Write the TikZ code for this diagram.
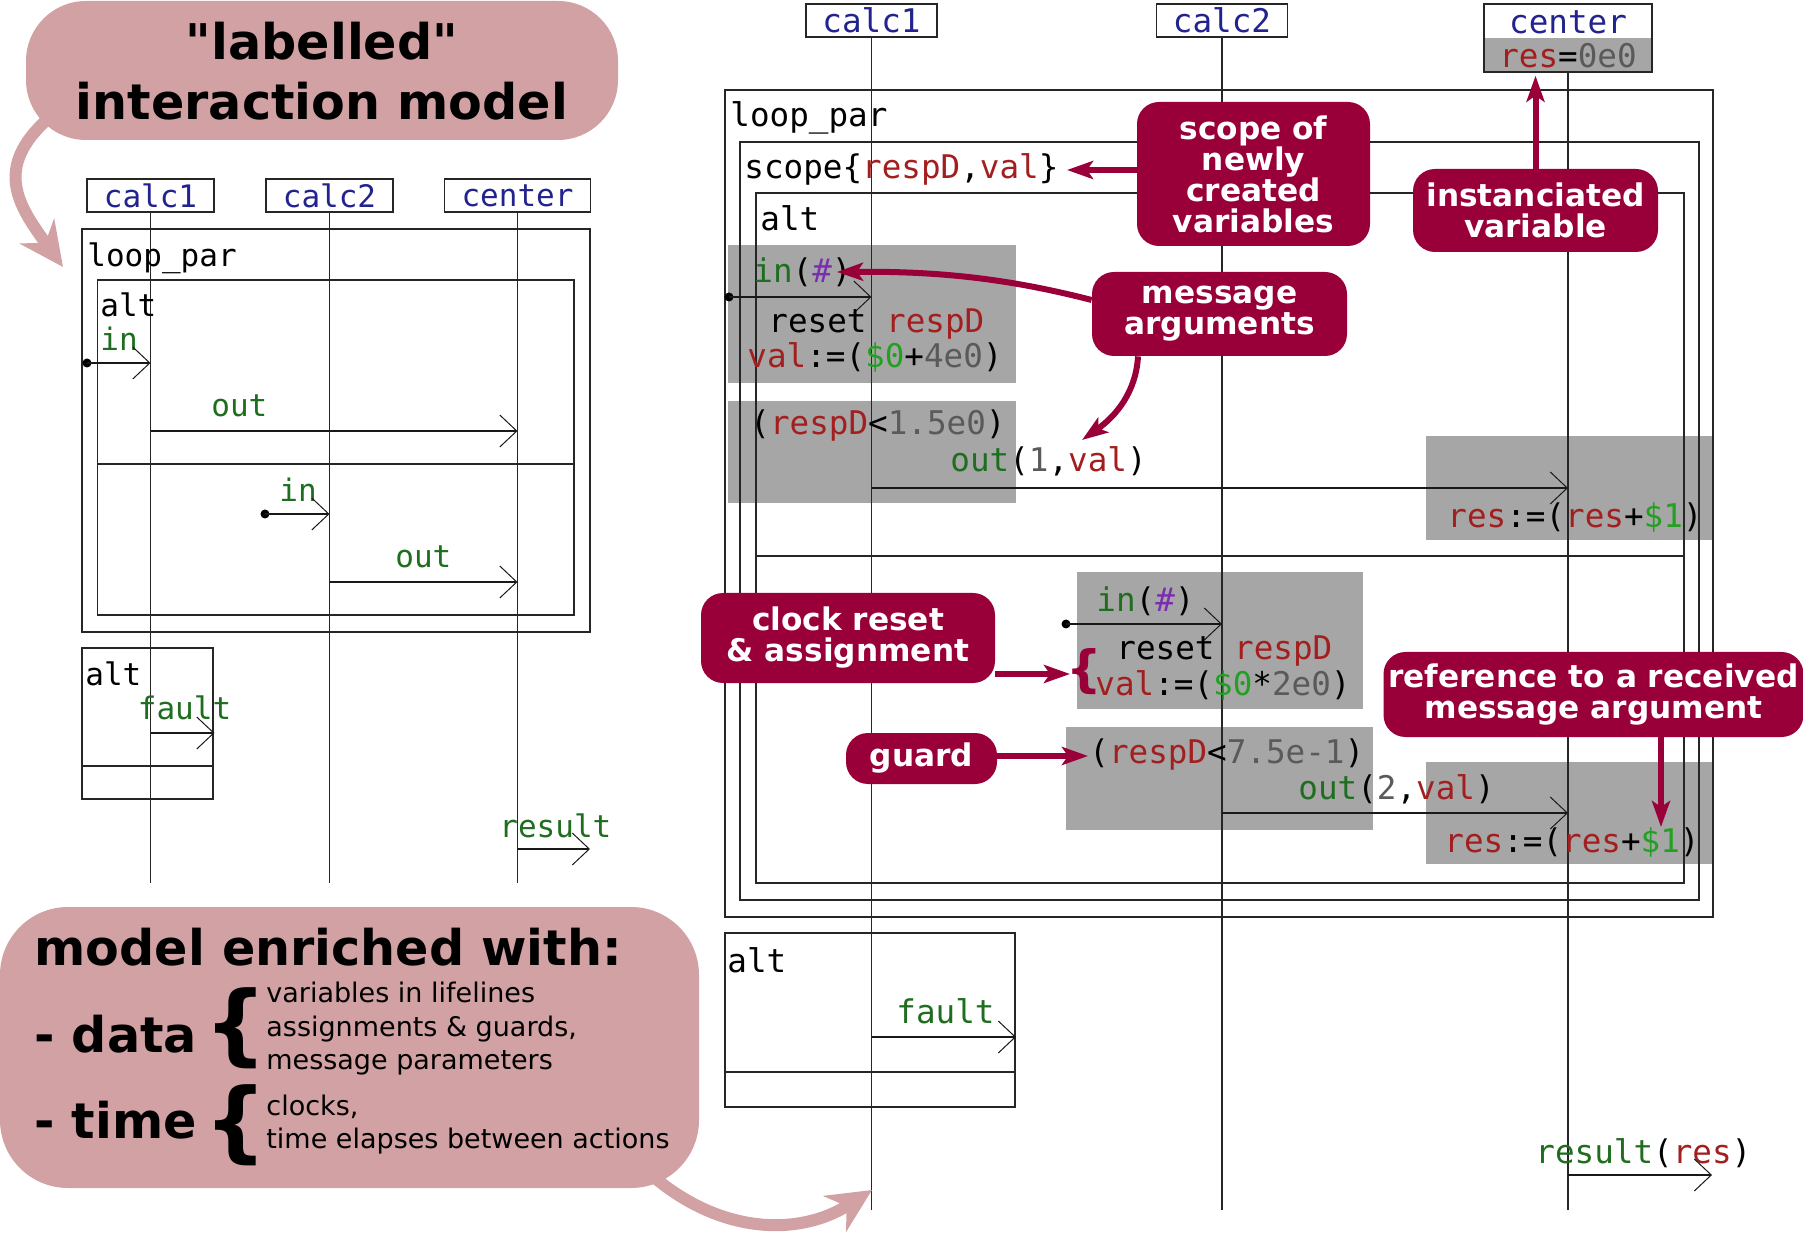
\documentclass[tikz,border=0pt]{standalone}
\usepackage{fontspec}
\setmainfont{DejaVu Sans}
\setmonofont{DejaVu Sans Mono}
\newfontfamily\plainsans{DejaVu Sans}[Ligatures=TeXOff]
\usetikzlibrary{arrows.meta}
\definecolor{pinkb}{HTML}{D1A1A3}
\definecolor{crim}{HTML}{990039}
\definecolor{grayb}{HTML}{A6A6A6}
\definecolor{msggreen}{HTML}{1F6E1F}
\definecolor{argreen}{HTML}{22A022}
\definecolor{varred}{HTML}{A31F1F}
\definecolor{numgray}{HTML}{5A5A5A}
\definecolor{hashpurple}{HTML}{7A2DB0}
\definecolor{lifeblue}{HTML}{23238F}
\newcommand\mMsg[1]{\textcolor{msggreen}{#1}}
\newcommand\mVar[1]{\textcolor{varred}{#1}}
\newcommand\mArg[1]{\textcolor{argreen}{#1}}
\newcommand\mNum[1]{\textcolor{numgray}{#1}}
\newcommand\mHash[1]{\textcolor{hashpurple}{#1}}
\newcommand\mLife[1]{\textcolor{lifeblue}{#1}}
\newcommand\monoR{\ttfamily\fontsize{16.3}{18}\selectfont}
\newcommand\monoL{\ttfamily\fontsize{15.5}{17}\selectfont}
\newcommand\calloutfont{\bfseries\fontsize{15.6}{15.5}\selectfont}
\newcommand\bigboldfont{\bfseries\fontsize{24.6}{30}\selectfont}
\newcommand\smalltextfont{\fontsize{13.5}{17}\selectfont}
\begin{document}
\begin{tikzpicture}[x=0.5pt,y=-0.5pt,
  frame/.style={draw=black!85, line width=0.75pt},
  life/.style={draw=black!85, line width=0.6pt},
  msgline/.style={draw=black!90, line width=0.75pt, -{Straight Barb[length=8.5pt,width=16pt,line width=0.5pt]}},
  startdot/.style={circle, fill=black, inner sep=0pt, minimum size=4.5pt},
  txR/.style={anchor=base west, inner sep=0pt, font=\monoR},
  txL/.style={anchor=base west, inner sep=0pt, font=\monoL},
  headR/.style={draw=black!85, line width=0.75pt, minimum width=65.5pt, minimum height=16.5pt, inner sep=0pt, font=\monoR},
  headL/.style={draw=black!85, line width=0.75pt, minimum width=63.5pt, minimum height=16.5pt, inner sep=0pt, font=\monoL},
  callout/.style={fill=crim, rounded corners=11pt, text=white, font=\calloutfont, align=center, inner sep=0pt},
  carrow/.style={draw=crim, line width=3pt, -{Stealth[length=13pt,width=9pt,inset=3pt]}},
  pinkarrow/.style={draw=pinkb, line width=6pt, -{Stealth[length=22pt,width=21pt,inset=7pt]}},
  bubble/.style={fill=pinkb, inner sep=0pt},
  bigbold/.style={anchor=base west, inner sep=0pt, font=\bigboldfont},
  smalltx/.style={anchor=base west, inner sep=0pt, font=\smalltextfont},
]
\useasboundingbox (0,0) rectangle (1803,1234);

%================ LEFT DIAGRAM =================
\draw[frame] (82,229) rectangle (590,632);
\draw[frame] (97.5,280) rectangle (574,615);
\draw[frame] (97.5,464) -- (574,464);
\draw[frame] (82,648) rectangle (213,799);
\draw[frame] (82,766) -- (213,766);

\node[headL] (lc1) at (150.5,195.5) {\mLife{calc1}};
\node[headL] (lc2) at (329.5,195.5) {\mLife{calc2}};
\node[headL, minimum width=73pt] (lctr) at (517.5,195.5) {\mLife{center}};
\coordinate (lc1e) at (150.5,883);
\coordinate (lc2e) at (329.5,883);
\coordinate (lctre) at (517.5,883);
\draw[life] (lc1.south) -- (lc1e);
\draw[life] (lc2.south) -- (lc2e);
\draw[life] (lctr.south) -- (lctre);

\node[txL] (lloop) at (87,267) {loop\_par};
\node[txL] (lalt) at (100,317) {alt};
\node[txL] (lin1) at (100,351) {\mMsg{in}};
\node[startdot] (ld1) at (87,363) {};
\coordinate (lt1) at (150.5,363);
\draw[msgline] (ld1.center) -- (lt1);
\node[txL] (lout1) at (211,417) {\mMsg{out}};
\coordinate (ls2) at (150.5,431);
\coordinate (lt2) at (517.5,431);
\draw[msgline] (ls2) -- (lt2);
\node[txL] (lin2) at (279,502) {\mMsg{in}};
\node[startdot] (ld3) at (265,514) {};
\coordinate (lt3) at (329.5,514);
\draw[msgline] (ld3.center) -- (lt3);
\node[txL] (lout2) at (395,568) {\mMsg{out}};
\coordinate (ls4) at (329.5,582);
\coordinate (lt4) at (517.5,582);
\draw[msgline] (ls4) -- (lt4);
\node[txL] (lalt2) at (85,685) {alt};
\node[txL] (lfault) at (137.5,719) {\mMsg{fault}};
\coordinate (ls5) at (150.5,733);
\coordinate (lt5) at (214.5,733);
\draw[msgline] (ls5) -- (lt5);
\node[txL] (lresult) at (499,837) {\mMsg{result}};
\coordinate (ls6) at (517.5,849);
\coordinate (lt6) at (590,849);
\draw[msgline] (ls6) -- (lt6);

%================ RIGHT DIAGRAM =================
\fill[grayb] (728,245) rectangle (1016,383);
\fill[grayb] (728,401) rectangle (1016,503);
\fill[grayb] (1426,436) rectangle (1713,540);
\fill[grayb] (1077,572) rectangle (1363,709);
\fill[grayb] (1066,727) rectangle (1373,830);
\fill[grayb] (1426,762) rectangle (1713,864);
\fill[grayb] (1484,38) rectangle (1652,72);

\draw[frame] (725,90) rectangle (1713,917);
\draw[frame] (740,142) rectangle (1699,900);
\draw[frame] (756,193) rectangle (1684,883);
\draw[frame] (756,556) -- (1684,556);
\draw[frame] (725,933) rectangle (1015,1107);
\draw[frame] (725,1072) -- (1015,1072);

\node[headR] (rc1) at (871.5,20.5) {\mLife{calc1}};
\node[headR] (rc2) at (1222,20.5) {\mLife{calc2}};
\node[draw=black!85, line width=0.75pt, minimum width=84pt, minimum height=34pt, inner sep=0pt] (rctr) at (1568,38) {};
\node[txR, anchor=base] (rctrname) at (1568,34) {\mLife{center}};
\node[txR, anchor=base] (rctrvar) at (1568,68) {\mVar{res}=\mNum{0e0}};
\coordinate (rc1e) at (871.5,1210);
\coordinate (rc2e) at (1222,1210);
\coordinate (rctre) at (1568,1210);
\draw[life] (rc1.south) -- (rc1e);
\draw[life] (rc2.south) -- (rc2e);
\draw[life] (rctr.south) -- (rctre);

\node[txR] (rloop) at (730,127) {loop\_par};
\node[txR] (rscope) at (744,179) {scope\{\mVar{respD},\mVar{val}\}};
\node[txR] (ralt) at (760,231) {alt};

\node[txR] (rin1) at (753,283) {\mMsg{in}(\mHash{\#})};
\node[startdot] (rd1) at (729,297) {};
\coordinate (rt1) at (871.5,297);
\draw[msgline] (rd1.center) -- (rt1);
\node[txR] (rreset1) at (768,333) {reset \mVar{respD}};
\node[txR] (rval1) at (747,368) {\mVar{val}:=(\mArg{\$0}+\mNum{4e0})};
\node[txR] (rguard1) at (750,435) {(\mVar{respD}<\mNum{1.5e0})};
\node[txR] (rout1) at (950,472) {\mMsg{out}(\mNum{1},\mVar{val})};
\coordinate (rs2) at (871.5,488);
\coordinate (rt2) at (1568,488);
\draw[msgline] (rs2) -- (rt2);
\node[txR] (rres1) at (1447,528) {\mVar{res}:=(\mVar{res}+\mArg{\$1})};

\node[txR] (rin2) at (1096,611) {\mMsg{in}(\mHash{\#})};
\node[startdot] (rd3) at (1066,624) {};
\coordinate (rt3) at (1222,624);
\draw[msgline] (rd3.center) -- (rt3);
\node[txR] (rreset2) at (1116,660) {reset \mVar{respD}};
\node[txR] (rval2) at (1095,695) {\mVar{val}:=(\mArg{\$0}*\mNum{2e0})};
\node[anchor=base west, inner sep=0pt, text=crim, font=\bfseries\fontsize{25}{25}\selectfont] (rbrace) at (1066,686) {\{};
\node[txR] (rguard2) at (1089,763) {(\mVar{respD}<\mNum{7.5e-1})};
\node[txR] (rout2) at (1298,799) {\mMsg{out}(\mNum{2},\mVar{val})};
\coordinate (rs4) at (1222,813);
\coordinate (rt4) at (1568,813);
\draw[msgline] (rs4) -- (rt4);
\node[txR] (rres2) at (1444,852) {\mVar{res}:=(\mVar{res}+\mArg{\$1})};

\node[txR] (ralt2) at (727,972) {alt};
\node[txR] (rfault) at (896,1023) {\mMsg{fault}};
\coordinate (rs5) at (871.5,1037);
\coordinate (rt5) at (1016,1037);
\draw[msgline] (rs5) -- (rt5);
\node[txR] (rresult) at (1535,1163) {\mMsg{result}(\mVar{res})};
\coordinate (rs6) at (1568,1175);
\coordinate (rt6) at (1712,1175);
\draw[msgline] (rs6) -- (rt6);

%================ CALLOUTS =================
\node[callout, minimum width=116.5pt, minimum height=72pt] (scopeC) at (1253.5,174) {scope of\\newly\\created\\variables};
\node[callout, minimum width=122.5pt, minimum height=41.5pt] (instC) at (1535.5,210.5) {instanciated\\variable};
\node[callout, minimum width=127.5pt, minimum height=42pt] (msgC) at (1219.5,314) {message\\arguments};
\node[callout, minimum width=147pt, minimum height=45pt] (clkC) at (848,638) {clock reset\\\& assignment};
\node[callout, minimum width=75.5pt, minimum height=25.5pt] (guardC) at (921.5,758.5) {guard};
\node[callout, minimum width=210pt, minimum height=42.5pt] (refC) at (1593.5,694.5) {reference to a received\\message argument};

\coordinate (scopeTip) at (1067,170);
\draw[carrow] (scopeC.west |- scopeTip) -- (scopeTip);
\draw[carrow, shorten >=1.5pt] (instC.north) -- (instC.north |- rctr.south);
\coordinate (maS1) at (1093,300);
\coordinate (maTip1) at (837,272);
\draw[carrow] (msgC.west |- maS1) .. controls (1010,279) and (940,271) .. (maTip1);
\coordinate (maS2) at (1138,356);
\coordinate (maTip2) at (1082,440);
\draw[carrow] (msgC.south -| maS2) .. controls (1136,392) and (1116,416) .. (maTip2);
\coordinate (clkTip) at (1070,674);
\draw[carrow] (clkC.east |- clkTip) -- (clkTip);
\coordinate (guardTip) at (1088,756);
\draw[carrow] (guardC.east |- guardTip) -- (guardTip);
\coordinate (refTip) at (1661,827);
\draw[carrow] (refC.south -| refTip) -- (refTip);

%================ PINK BUBBLES =================
\coordinate (pa1s) at (56,112);
\coordinate (pa1e) at (63,267);
\draw[pinkarrow] (pa1s) .. controls (-10,165) and (18,205) .. (pa1e);
\coordinate (pa2s) at (648,1172);
\coordinate (pa2e) at (872,1190);
\draw[pinkarrow] (pa2s) .. controls (720,1236) and (800,1236) .. (pa2e);

\node[bubble, rounded corners=30pt, minimum width=296pt, minimum height=69.5pt] (titleB) at (322,70.5) {};
\node[anchor=base, inner sep=0pt, font=\plainsans\bigboldfont] (titleA) at (322,60) {"labelled"};
\node[anchor=base, inner sep=0pt, font=\bigboldfont] (titleC) at (322,120) {interaction model};

\node[bubble, rounded corners=34pt, minimum width=349.5pt, minimum height=140.5pt] (enrB) at (349.5,1047.5) {};
\node[bigbold] (enrT) at (34,965) {model enriched with:};
\node[bigbold] (dataT) at (34,1052) {- data};
\node[bigbold] (timeT) at (34,1138) {- time};
\node[anchor=base west, inner sep=0pt, font=\bfseries\fontsize{44}{44}\selectfont] (dataBr) at (204,1054) {\{};
\node[anchor=base west, inner sep=0pt, font=\bfseries\fontsize{44}{44}\selectfont] (timeBr) at (204,1151) {\{};
\node[smalltx] (d1t) at (266,1002) {variables in lifelines};
\node[smalltx] (d2t) at (266,1036) {assignments \& guards,};
\node[smalltx] (d3t) at (266,1069) {message parameters};
\node[smalltx] (t1t) at (266,1115) {clocks,};
\node[smalltx] (t2t) at (266,1148) {time elapses between actions};
\end{tikzpicture}
\end{document}
